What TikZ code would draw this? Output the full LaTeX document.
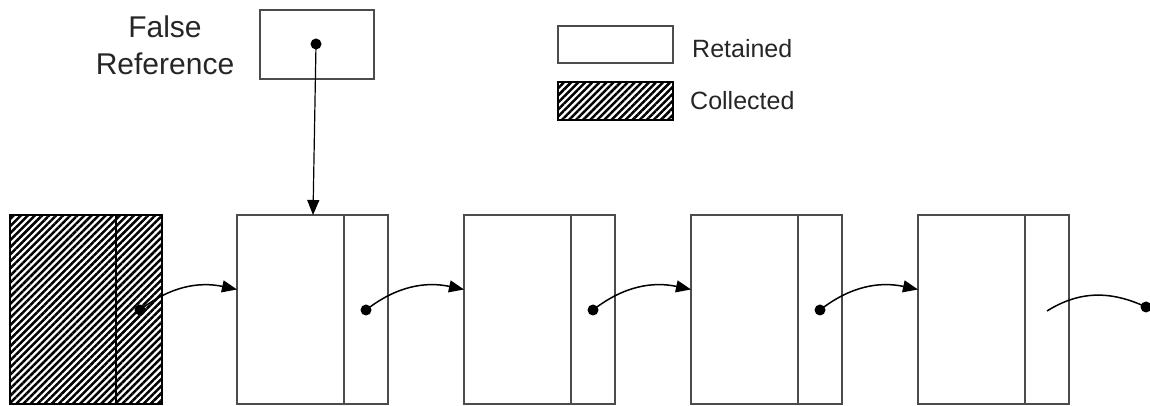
\documentclass[tikz,border=0pt]{standalone}
\usepackage{fontspec}
\setmainfont{Liberation Sans}
\usetikzlibrary{patterns.meta,arrows.meta}
\begin{document}
\begin{tikzpicture}[x=1pt,y=1pt,
  cellbox/.style={draw=black!70, line width=1.7pt, inner sep=0pt, outer sep=0pt,
                  anchor=south west, minimum height=189pt},
  datacell/.style={cellbox, minimum width=107pt},
  ptrcell/.style={cellbox, minimum width=44pt},
  hatched/.style={pattern={Lines[angle=45,distance=5pt,line width=2.5pt]},
                  pattern color=black, draw=black},
  dot/.style={circle, fill=black, inner sep=0pt, minimum size=11pt},
  tip/.style={-{Triangle[length=15pt,width=12pt]}},
  link/.style={line width=1.5pt, tip},
  lbl/.style={font=\fontsize{25}{30}\selectfont, anchor=base west, inner sep=0pt,
              text=black!85}
]
\useasboundingbox (0,0) rectangle (1150,406);

% collected object
\node[datacell, hatched, minimum width=106pt] (d0) at (10,2) {};
\node[ptrcell, hatched, minimum width=46pt] (p0) at (116,2) {};

% retained objects of the list
\foreach \i in {1,...,4} {
  \pgfmathsetmacro\xo{237+227*(\i-1)}
  \node[datacell] (d\i) at (\xo,2) {};
  \node[ptrcell] (p\i) at (\xo+107,2) {};
}

% next pointers
\node[dot] (k0) at (140,96) {};
\foreach \i in {1,...,3} {
  \pgfmathsetmacro\xo{366+227*(\i-1)}
  \node[dot] (k\i) at (\xo,96) {};
}
\draw[link] (k0.center) to[out=38,in=168] ([yshift=20pt]d1.west);
\draw[link] (k1.center) to[out=38,in=168] ([yshift=20pt]d2.west);
\draw[link] (k2.center) to[out=38,in=168] ([yshift=20pt]d3.west);
\draw[link] (k3.center) to[out=38,in=168] ([yshift=20pt]d4.west);

% pointer leaving the last object
\coordinate (tail) at (1047,95);
\node[dot] (k4) at (1146,99) {};
\draw[line width=1.5pt] (tail) to[out=32,in=155] (k4.center);

% false reference
\node[cellbox, minimum width=114pt, minimum height=69pt] (fr) at (260,327) {};
\node[dot] (fd) at (316,362) {};
\draw[line width=1.2pt, tip] (fd.center) -- ([xshift=22.5pt]d1.north);
\node[font=\fontsize{30}{37}\selectfont, align=center, anchor=base, inner sep=0pt,
      text=black!85] (frt) at (165,331) {False\\Reference};

% legend
\node[cellbox, minimum width=115pt, minimum height=37pt] (lr) at (558,343) {};
\node[cellbox, hatched, minimum width=115pt, minimum height=38pt] (lc) at (558,286) {};
\node[lbl] (lrt) at (692,348) {Retained};
\node[lbl] (lct) at (690,296) {Collected};
\end{tikzpicture}
\end{document}
